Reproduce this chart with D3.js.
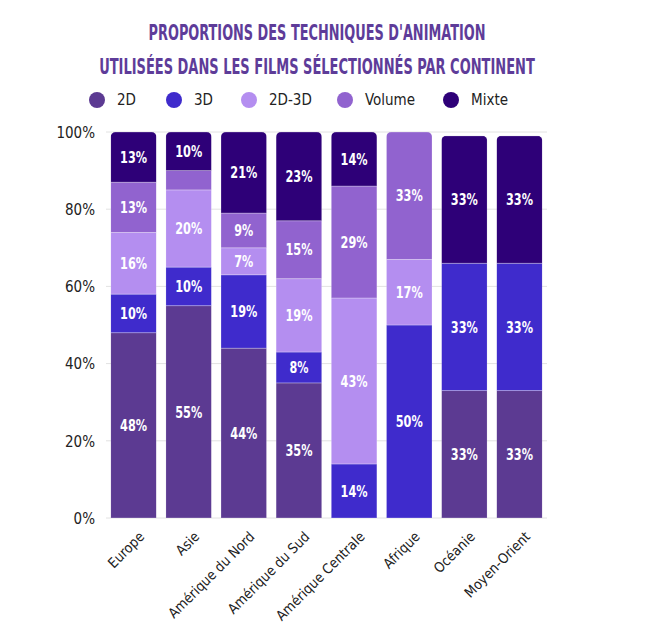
<!DOCTYPE html>
<html>
<head>
<meta charset="utf-8">
<script src="https://cdn.jsdelivr.net/npm/d3@7"></script>
<style>
  body { margin: 0; background: #fff; }
  text { font-family: 'DejaVu Sans Condensed', 'Liberation Sans Narrow', sans-serif; }
</style>
</head>
<body>
<div id="chart"></div>
<script>
const continents = ["Europe", "Asie", "Amérique du Nord", "Amérique du Sud", "Amérique Centrale", "Afrique", "Océanie", "Moyen-Orient"]
const techniques = ["2D", "3D", "2D-3D", "Volume", "Mixte"]
const colors = ["#5c3a92", "#3f2bcc", "#b48ef0", "#9163cf", "#2e0078"]

const v2D     = [48, 55, 44, 35, 0, 0, 33, 33]
const v3D     = [10, 10, 19, 8, 14, 50, 33, 33]
const v2D3D   = [16, 20, 7, 19, 43, 17, 0, 0]
const vVolume = [13, 5, 9, 15, 29, 33, 0, 0]
const vMixte  = [13, 10, 21, 23, 14, 0, 33, 33]
const yTicks  = [0, 20, 40, 60, 80, 100]

const titleLines = ["PROPORTIONS DES TECHNIQUES D'ANIMATION", "UTILISÉES DANS LES FILMS SÉLECTIONNÉS PAR CONTINENT"]
const titleWidths = [337, 436]

const series = [v2D, v3D, v2D3D, vVolume, vMixte]
const rows = continents.map((c, i) => {
    const r = { continent: c }
    techniques.forEach((t, j) => { r[t] = series[j][i] })
    return r
})

const width = 658, height = 631
const margin = { left: 106, right: 111, top: 132, bottom: 113 }

const svg = d3.select("#chart").append("svg")
    .attr("width", width)
    .attr("height", height)

// title, squeezed horizontally to the reference width
svg.selectAll(".title")
    .data(titleLines)
    .enter()
    .append("g")
    .attr("class", "title")
    .each(function (d, i) {
        const g = d3.select(this)
        const t = g.append("text")
            .attr("text-anchor", "middle")
            .attr("fill", "#5e3c99")
            .attr("font-size", 21)
            .attr("font-weight", "bold")
            .text(d)
        const k = titleWidths[i] / t.node().getComputedTextLength()
        g.attr("transform", "translate(317," + (40 + i * 34) + ") scale(" + k + ",1)")
    })

// legend
const legendX = [97, 174, 249, 345, 451]
const legend = svg.selectAll(".legend")
    .data(techniques)
    .enter()
    .append("g")
    .attr("class", "legend")
    .attr("transform", (d, i) => "translate(" + legendX[i] + ", 100)")
legend.append("circle")
    .attr("r", 8)
    .attr("fill", (d, i) => colors[i])
legend.append("text")
    .attr("x", 20)
    .attr("y", 5)
    .attr("font-size", 15)
    .attr("fill", "#222")
    .text(d => d)

const x = d3.scaleBand()
    .domain(continents)
    .range([margin.left, width - margin.right])
    .paddingInner(0.17)
    .paddingOuter(0.085)

const y = d3.scaleLinear()
    .domain([0, 100])
    .range([height - margin.bottom, margin.top])

// grid
svg.append("g")
    .selectAll("line")
    .data(yTicks)
    .enter()
    .append("line")
    .attr("x1", margin.left)
    .attr("x2", width - margin.right)
    .attr("y1", d => y(d))
    .attr("y2", d => y(d))
    .attr("stroke", "#e2e2e2")
    .attr("stroke-width", 1)

const yAxis = svg.append("g")
    .attr("transform", "translate(" + (margin.left - 8) + ",0)")
    .call(d3.axisLeft(y).tickValues(yTicks).tickSize(0).tickFormat(d => d + "%"))
yAxis.select(".domain").remove()
yAxis.selectAll("text")
    .attr("font-size", 15)
    .attr("fill", "#222")
    .attr("dy", "0.35em")

const stack = d3.stack().keys(techniques)(rows)

// rounded tops via clip per column
const defs = svg.append("defs")
continents.forEach((c, i) => {
    const total = d3.sum(techniques, t => rows[i][t])
    defs.append("clipPath")
        .attr("id", "clip" + i)
        .append("rect")
        .attr("x", x(c))
        .attr("y", y(total))
        .attr("width", x.bandwidth())
        .attr("height", y(0) - y(total) + 10)
        .attr("rx", 5)
})

const layers = svg.selectAll(".layer")
    .data(stack)
    .enter()
    .append("g")
    .attr("class", "layer")
    .attr("fill", (d, i) => colors[i])

layers.selectAll("rect")
    .data(d => d)
    .enter()
    .append("rect")
    .attr("clip-path", (d, i) => "url(#clip" + i + ")")
    .attr("x", d => x(d.data.continent))
    .attr("y", d => y(d[1]))
    .attr("width", x.bandwidth())
    .attr("height", d => y(d[0]) - y(d[1]))
    .attr("stroke", "rgba(255,255,255,0.35)")
    .attr("stroke-width", 0.8)

layers.selectAll(".val")
    .data(d => d.filter(s => s[1] - s[0] >= 7))
    .enter()
    .append("text")
    .attr("class", "val")
    .attr("x", d => x(d.data.continent) + x.bandwidth() / 2)
    .attr("y", d => y((d[0] + d[1]) / 2))
    .attr("dy", "0.36em")
    .attr("text-anchor", "middle")
    .attr("font-size", 16)
    .attr("font-weight", "bold")
    .attr("fill", "#fff")
    .attr("textLength", d => String(d[1] - d[0]).length * 8 + 11)
    .attr("lengthAdjust", "spacingAndGlyphs")
    .text(d => (d[1] - d[0]) + "%")

// x labels
const xAxis = svg.append("g")
    .attr("transform", "translate(0," + (height - margin.bottom) + ")")
    .call(d3.axisBottom(x).tickSize(0))
xAxis.select(".domain").remove()
xAxis.selectAll("text")
    .attr("font-size", 14)
    .attr("fill", "#222")
    .attr("text-anchor", "end")
    .attr("dy", "0.35em")
    .attr("transform", "translate(6,14) rotate(-45)")
</script>
</body>
</html>
